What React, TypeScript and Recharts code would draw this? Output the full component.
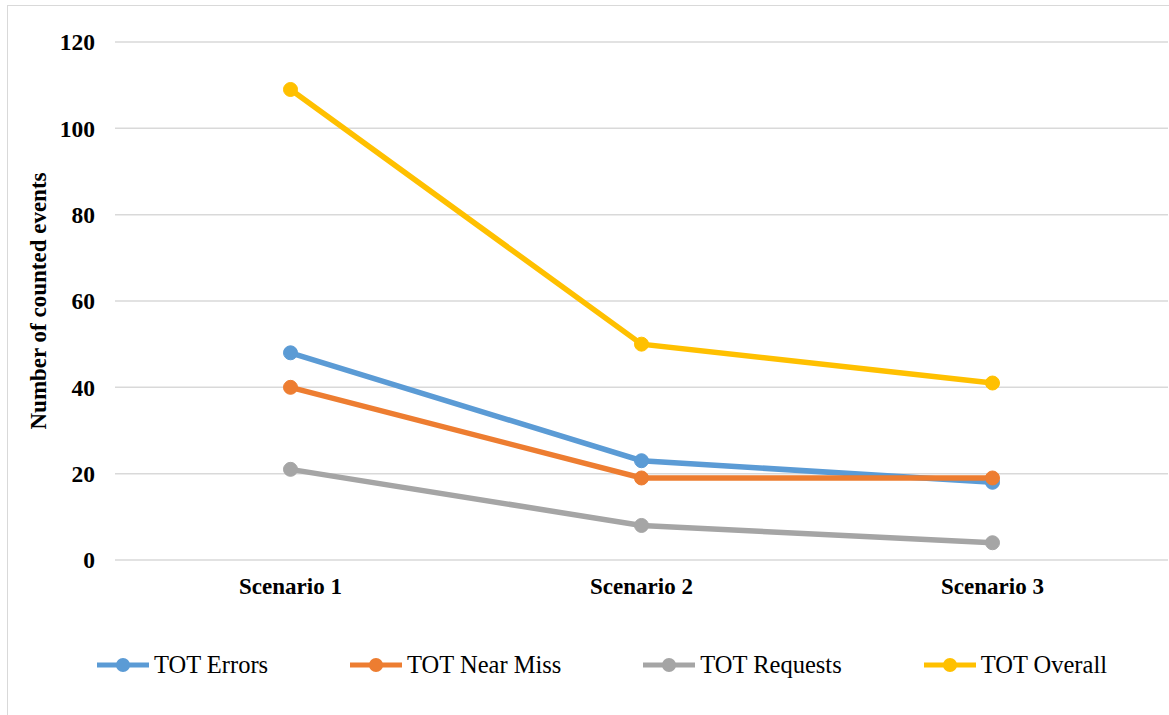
import React from 'react';
import { LineChart, Line, XAxis, YAxis, CartesianGrid } from 'recharts';

const scenarios = ['Scenario 1', 'Scenario 2', 'Scenario 3'];
const totErrors = [48, 23, 18];
const totNearMiss = [40, 19, 19];
const totRequests = [21, 8, 4];
const totOverall = [109, 50, 41];
const yTicks = [0, 20, 40, 60, 80, 100, 120];

const series = [
    { key: 'errors', name: 'TOT Errors', color: '#5b9bd5', values: totErrors },
    { key: 'nearMiss', name: 'TOT Near Miss', color: '#ed7d31', values: totNearMiss },
    { key: 'requests', name: 'TOT Requests', color: '#a5a5a5', values: totRequests },
    { key: 'overall', name: 'TOT Overall', color: '#ffc000', values: totOverall },
];

const data = scenarios.map((name, i) => {
    const row: Record<string, string | number> = { name };
    series.forEach((s) => { row[s.key] = s.values[i]; });
    return row;
});

const FONT = '"Liberation Serif", "Times New Roman", serif';

const YLabel = (props: any) => {
    const { viewBox } = props;
    const cx = viewBox.x + 38;
    const cy = viewBox.y + viewBox.height / 2;
    return (
        <text
            x={cx}
            y={cy}
            transform={`rotate(-90, ${cx}, ${cy})`}
            textAnchor="middle"
            dominantBaseline="central"
            fontFamily={FONT}
            fontWeight="bold"
            fontSize={23}
            fill="#000"
        >
            Number of counted events
        </text>
    );
};

const LegendRow = () => (
    <div
        style={{
            position: 'absolute',
            left: 97,
            top: 651,
            display: 'flex',
            alignItems: 'center',
            gap: 82,
            fontFamily: FONT,
            fontSize: 24.5,
            color: '#000',
            whiteSpace: 'nowrap',
        }}
    >
        {series.map((s) => (
            <div key={s.key} style={{ display: 'flex', alignItems: 'center' }}>
                <svg width={52} height={16}>
                    <line x1={0} y1={8} x2={52} y2={8} stroke={s.color} strokeWidth={5} />
                    <circle cx={26} cy={8} r={7} fill={s.color} />
                </svg>
                <span style={{ marginLeft: 5, lineHeight: '28px' }}>{s.name}</span>
            </div>
        ))}
    </div>
);

export default function App() {
    return (
        <div
            style={{
                position: 'absolute',
                left: 0,
                top: 0,
                width: 1169,
                height: 715,
                overflow: 'hidden',
                background: '#fff',
            }}
        >
            <div
                style={{
                    position: 'absolute',
                    left: 7,
                    top: 5,
                    width: 1161,
                    height: 730,
                    border: '1.5px solid #d9d9d9',
                }}
            />
            <LineChart
                width={1169}
                height={715}
                data={data}
                margin={{ top: 42, right: 1, left: 0, bottom: 0 }}
                style={{ position: 'absolute', left: 0, top: 0 }}
            >
                <CartesianGrid vertical={false} stroke="#d9d9d9" strokeWidth={1.5} />
                <XAxis
                    dataKey="name"
                    scale="band"
                    height={155}
                    axisLine={false}
                    tickLine={false}
                    tickSize={0}
                    tickMargin={18}
                    tick={{ fontFamily: FONT, fontWeight: 'bold', fontSize: 23, fill: '#000' }}
                />
                <YAxis
                    width={115}
                    domain={[0, 120]}
                    ticks={yTicks}
                    axisLine={false}
                    tickLine={false}
                    tickSize={0}
                    tickMargin={20}
                    tick={{ fontFamily: FONT, fontWeight: 'bold', fontSize: 23.5, fill: '#000' }}
                    label={<YLabel />}
                />
                {series.map((s) => (
                    <Line
                        key={s.key}
                        dataKey={s.key}
                        name={s.name}
                        type="linear"
                        stroke={s.color}
                        strokeWidth={5.5}
                        dot={{ r: 7, fill: s.color, stroke: s.color, strokeWidth: 1 }}
                        activeDot={false}
                        isAnimationActive={false}
                    />
                ))}
            </LineChart>
            <LegendRow />
        </div>
    );
}
